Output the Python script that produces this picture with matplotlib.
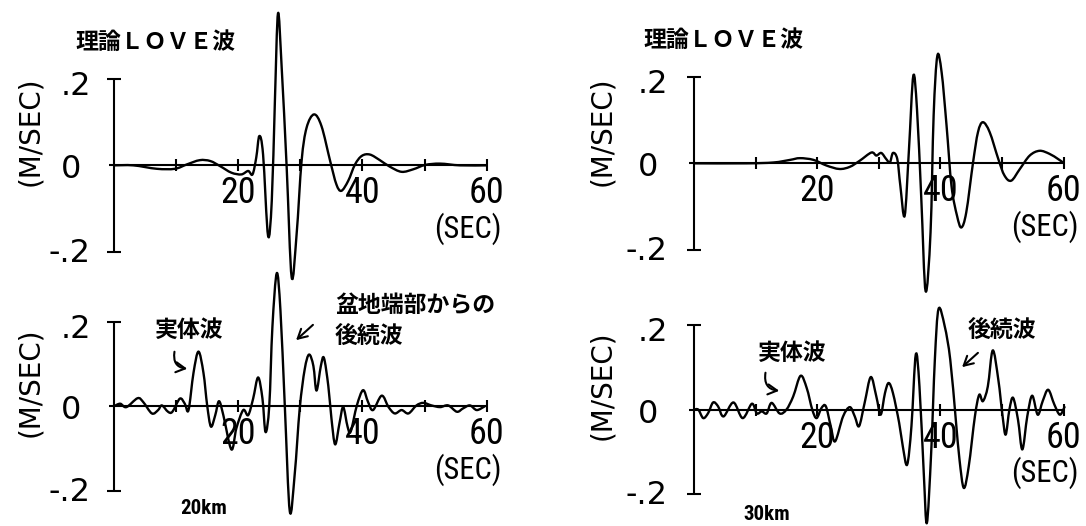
import matplotlib
matplotlib.use("Agg")
import matplotlib.pyplot as plt
from matplotlib import font_manager
from matplotlib.path import Path
from matplotlib.patches import PathPatch, FancyArrowPatch

# --- traces: time (s) and ground velocity (m/s) ---
# 20 km, theoretical Love wave
t_20_theo = [0, 3.1, 6.9, 9.8, 11.7, 13.8, 15.5, 17.1, 18.9, 20.5, 21.6, 22.3, 22.9, 23.4,
             24.0, 24.8, 25.4, 25.9, 26.4, 27.0, 27.8, 28.6, 29.4, 30.2, 31.0, 32.2, 33.4,
             34.8, 35.8, 36.6, 37.7, 38.8, 39.9, 41.2, 42.8, 44.4, 46.3, 48.2, 50.1, 52.5,
             55.7, 60]
v_20_theo = [0, 0, -0.008, -0.008, 0.002, 0.012, 0.010, -0.002, -0.017, -0.021, -0.013,
             -0.021, 0.018, 0.068, 0.025, -0.163, -0.082, 0.148, 0.352, 0.225, -0.005,
             -0.259, -0.159, 0.010, 0.087, 0.118, 0.091, 0.010, -0.044, -0.059, -0.036,
             0.002, 0.022, 0.025, 0.012, -0.003, -0.015, -0.009, 0.001, 0.004, 0, 0]

# 20 km, basin model
t_20_basin = [0, 1.0, 2.0, 3.8, 4.7, 6.1, 7.1, 7.7, 8.7, 9.4, 10.6, 11.4, 12.0, 12.8, 13.6,
              14.4, 15.0, 15.6, 16.3, 16.9, 17.6, 18.9, 19.7, 20.8, 21.6, 22.4, 23.2, 23.9,
              24.4, 25.0, 25.5, 26.2, 26.8, 27.5, 28.3, 29.1, 29.9, 30.7, 31.4, 32.1, 32.6,
              33.3, 33.8, 34.5, 35.0, 35.6, 36.3, 36.9, 37.6, 38.1, 39.1, 40.1, 40.9, 41.7,
              43.1, 44.2, 45.2, 46.3, 47.4, 48.7, 49.8, 51.1, 52.5, 53.8, 55.2, 56.2, 57.3,
              58.4, 59.7]
v_20_basin = [0, 0.006, -0.002, 0.019, 0.010, -0.017, -0.009, 0.002, -0.013, -0.013, 0.018,
              0.006, -0.009, 0.079, 0.129, 0.079, 0.002, -0.048, -0.021, 0.012, -0.021,
              -0.102, -0.052, -0.009, -0.021, 0.018, 0.068, 0.018, -0.061, 0.002, 0.187,
              0.314, 0.225, 0.0, -0.248, -0.159, -0.005, 0.087, 0.122, 0.095, 0.037, 0.095,
              0.114, 0.048, -0.028, -0.090, -0.040, -0.002, -0.048, -0.060, 0.002, 0.038,
              0.010, -0.009, 0.025, -0.002, -0.017, -0.009, -0.017, 0.002, 0.008, 0.002,
              -0.002, 0.002, -0.013, -0.005, 0.002, -0.009, 0.0]

# 30 km, theoretical Love wave
t_30_theo = [0, 8.5, 12.9, 15.6, 17.2, 19.4, 21.5, 23.6, 25.3, 26.9, 28.8, 29.6, 30.4, 31.2,
             31.8, 32.3, 33.0, 33.5, 34.2, 34.9, 35.6, 36.2, 36.9, 37.6, 38.4, 38.9, 39.5,
             40.2, 41.0, 41.8, 42.7, 43.4, 44.2, 45.3, 46.1, 46.9, 48.0, 49.4, 50.4, 51.5,
             52.9, 54.5, 56.1, 57.7, 59.1, 59.9]
v_30_theo = [0, 0, 0.002, 0.008, 0.012, 0.008, -0.005, -0.013, -0.008, 0.006, 0.025, 0.018,
             0.024, 0.010, 0.002, 0.024, 0.010, -0.052, -0.121, 0.033, 0.202, 0.125, -0.082,
             -0.295, -0.159, 0.110, 0.248, 0.210, 0.087, -0.052, -0.121, -0.148, -0.113,
             0.002, 0.072, 0.095, 0.072, 0.010, -0.028, -0.040, -0.013, 0.018, 0.029, 0.022,
             0.010, 0.002]

# 30 km, basin model
t_30_basin = [0, 0.7, 1.5, 2.3, 3.1, 3.9, 4.8, 6.4, 7.9, 9.4, 10.2, 11.0, 11.8, 12.6, 13.9,
              15.0, 16.1, 17.3, 18.3, 19.2, 19.9, 20.7, 21.4, 22.2, 22.9, 24.2, 25.3, 26.1,
              26.8, 27.7, 28.7, 29.6, 30.3, 31.0, 31.6, 32.3, 33.3, 33.9, 34.6, 35.3, 36.0,
              36.6, 37.3, 37.8, 38.5, 39.1, 39.7, 40.7, 41.6, 42.5, 43.1, 43.8, 44.6, 45.6,
              46.3, 46.9, 47.7, 48.5, 49.4, 50.1, 50.6, 51.2, 51.8, 52.6, 53.3, 54.1, 54.9,
              55.8, 56.6, 57.5, 58.5, 59.4, 60.2]
v_30_basin = [0, 0, -0.020, -0.008, 0.017, 0.008, -0.016, 0.017, -0.020, 0.014, -0.009,
              -0.004, -0.009, 0.016, -0.009, 0.0, 0.031, 0.080, 0.051, 0.0, -0.020, 0.004,
              0.008, -0.039, -0.075, -0.016, 0.006, -0.016, -0.039, 0.016, 0.077, 0.031,
              -0.012, 0.039, 0.063, 0.039, -0.031, -0.087, -0.130, -0.039, 0.130, 0.055,
              -0.150, -0.268, -0.102, 0.118, 0.238, 0.197, 0.118, -0.024, -0.118, -0.185,
              -0.134, -0.016, 0.035, 0.020, 0.055, 0.140, 0.071, -0.016, -0.059, 0.0, 0.028,
              -0.024, -0.094, -0.016, 0.033, -0.012, 0.020, 0.047, 0.012, -0.012, 0.008]

x_ticks = [10, 20, 30, 40, 50, 60]
x_labeled = [20, 40, 60]
x_labels = ["20", "40", "60"]
y_levels = [0.2, 0.0, -0.2]
y_labels = [".2", "0", "-.2"]

W, H = 1086, 526
PT = 0.72  # pixels -> points at 100 dpi


def pick_narrow():
    # a condensed sans looks closest to the plotter lettering
    fl = font_manager.fontManager.ttflist
    names = {f.name for f in fl}
    for n in ("Liberation Sans Narrow", "DejaVu Sans Condensed", "Roboto Condensed",
              "Open Sans Condensed", "Noto Sans Condensed"):
        if n in names:
            return {"family": n}, 1.0
    for f in fl:
        if f.name == "DejaVu Sans" and "condensed" in str(f.stretch):
            return {"family": "DejaVu Sans", "fontstretch": "condensed"}, 1.0
    return {"family": "Liberation Sans"}, 0.9


NARROW, NSCALE = pick_narrow()
JP = ["Noto Sans CJK JP", "DejaVu Sans"]

fig = plt.figure(figsize=(W / 100, H / 100), dpi=100)
fig.patch.set_facecolor("white")


def px(x, y):
    return x / W, 1 - y / H


def smooth_path(t, v):
    # cubic pieces through the read points (pen plotter traces were smooth)
    pts = list(zip(t, v))
    n = len(pts)
    verts, codes = [pts[0]], [Path.MOVETO]
    for i in range(n - 1):
        p0 = pts[i - 1] if i > 0 else pts[i]
        p1, p2 = pts[i], pts[i + 1]
        p3 = pts[i + 2] if i + 2 < n else pts[i + 1]
        c1 = (p1[0] + (p2[0] - p0[0]) / 6, p1[1] + (p2[1] - p0[1]) / 6)
        c2 = (p2[0] - (p3[0] - p1[0]) / 6, p2[1] - (p3[1] - p1[1]) / 6)
        verts += [c1, c2, p2]
        codes += [Path.CURVE4] * 3
    return Path(verts, codes)


def panel(left, right, top, bottom, t, v, unit_dx, unit_dy, lab_dx):
    ax = fig.add_axes([left / W, 1 - bottom / H, (right - left) / W, (bottom - top) / H])
    ax.set_xlim(0, 60)
    ax.set_ylim(-0.2, 0.2)
    ax.axis("off")
    kw = dict(color="black", lw=1.5, clip_on=False, solid_capstyle="butt")
    # axes drawn like the plotter did: baseline, ticks, capped vertical scale bar
    ax.plot([-0.8, 60], [0, 0], **kw)
    ax.vlines(x_ticks, -0.014, 0.014, colors="black", lw=1.5, clip_on=False)
    ax.plot([0, 0], [-0.2, 0.2], **kw)
    ax.hlines([-0.2, 0.2], -1.1, 1.1, colors="black", lw=1.5, clip_on=False)
    ax.add_patch(PathPatch(smooth_path(t, v), facecolor="none", edgecolor="black",
                           lw=1.7, clip_on=False, joinstyle="round"))

    for x, s in zip(x_labeled, x_labels):
        ax.annotate(s, (x, 0), xytext=(0, -38 * PT), textcoords="offset points",
                    ha="center", va="baseline", fontsize=26 * NSCALE, **NARROW)
    ax.annotate("(SEC)", (60, 0), xytext=(15 * PT, -72 * PT), textcoords="offset points",
                ha="right", va="baseline", fontsize=22 * NSCALE, **NARROW)
    offs = {".2": (lab_dx, -16, "right"), "0": (lab_dx - 20, -13, "center"),
            "-.2": (lab_dx, -10, "right")}
    for y, s in zip(y_levels, y_labels):
        dx, dy, ha = offs[s]
        ax.annotate(s, (0, y), xytext=(dx * PT, dy * PT), textcoords="offset points",
                    ha=ha, va="baseline", fontsize=23, family="DejaVu Sans")
    ax.annotate("(M/SEC)", (0, 0), xytext=(unit_dx * PT, unit_dy * PT),
                textcoords="offset points", ha="center", va="center", rotation=90,
                fontsize=20, family="DejaVu Sans")
    return ax


panel(114, 486.7, 79, 251.7, t_20_theo, v_20_theo, -84, 34, -23)
panel(114, 486.7, 321.5, 491, t_20_basin, v_20_basin, -84, 24, -23)
panel(694, 1063.6, 76.7, 250, t_30_theo, v_30_theo, -92, 32, -26)
panel(694, 1063.6, 325, 494.3, t_30_basin, v_30_basin, -92, 24, -26)

jp = dict(family=JP, fontsize=16.5, weight="bold", va="center", ha="left")
fig.text(*px(75, 42), "理論ＬＯＶＥ波", **jp)
fig.text(*px(643, 40), "理論ＬＯＶＥ波", **jp)
fig.text(*px(155, 330), "実体波", **jp)
fig.text(*px(335, 305), "盆地端部からの", **jp)
fig.text(*px(335, 336), "後続波", **jp)
fig.text(*px(758, 353), "実体波", **jp)
fig.text(*px(968, 330), "後続波", **jp)

km = dict(fontsize=15 * NSCALE, weight="bold", va="center", ha="left", **NARROW)
fig.text(*px(180, 509), "20km", **km)
fig.text(*px(743, 515), "30km", **km)

arrow = dict(arrowstyle="->,head_length=0.55,head_width=0.3", color="black", lw=1.5,
             transform=fig.transFigure, mutation_scale=12)
fig.add_artist(FancyArrowPatch(px(175, 349), px(190, 369),
                               connectionstyle="arc3,rad=0.6", **arrow))
fig.add_artist(FancyArrowPatch(px(766, 370), px(782, 391),
                               connectionstyle="arc3,rad=0.6", **arrow))
fig.add_artist(FancyArrowPatch(px(315, 323), px(294, 342), **arrow))
fig.add_artist(FancyArrowPatch(px(980, 351), px(960, 369), **arrow))

fig.savefig("out.png", dpi=100, facecolor="white")
